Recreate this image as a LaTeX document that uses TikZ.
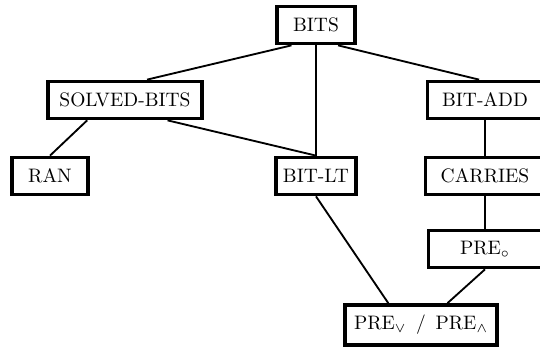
\documentclass[tikz,border=0pt]{standalone}
\usepackage{amsmath,amssymb}
\usepackage{xcolor}
\usepackage{tikz}
\usetikzlibrary{calc}
\tikzset{
  box/.style={draw=black, line width=1.9pt, minimum height=19pt, inner sep=2pt, font=\normalsize},
  edge/.style={draw=black, line width=0.95pt}
}
\begin{document}
\begin{tikzpicture}[x=0.513pt, y=-0.513pt]
  \clip (0,0) rectangle (540,352);

  \node[box, minimum width=40pt] (bits) at (316,25) {BITS};
  \node[box, minimum width=79pt] (solved) at (125,100) {SOLVED-BITS};
  \node[box, minimum width=59pt] (bitadd) at (485,100) {BIT-ADD};
  \node[box, minimum width=39pt] (ran) at (50,176) {RAN};
  \node[box, minimum width=41pt] (bitlt) at (316,176) {BIT-LT};
  \node[box, minimum width=61pt] (carries) at (485,176) {CARRIES};
  \node[box, minimum width=58pt] (prec) at (485,249) {PRE$_\circ$};
  \node[box, minimum width=78pt, minimum height=20.5pt] (preor) at (421,325) {PRE$_\vee$ \,/\, PRE$_\wedge$};

  % top level
  \draw[edge] ($(bits.south west)!0.2!(bits.south east)$) -- ($(solved.north west)!0.64!(solved.north east)$);
  \draw[edge] (bits.south) -- (bitlt.north);
  \draw[edge] ($(bits.south west)!0.77!(bits.south east)$) -- ($(bitadd.north west)!0.45!(bitadd.north east)$);

  % left part
  \draw[edge] ($(solved.south west)!0.26!(solved.south east)$) -- (ran.north);
  \draw[edge] ($(solved.south west)!0.77!(solved.south east)$) -- (bitlt.north);

  % right column
  \draw[edge] (bitadd.south) -- (carries.north);
  \draw[edge] (carries.south) -- (prec.north);

  % bottom
  \draw[edge] (bitlt.south) -- ($(preor.north west)!0.29!(preor.north east)$);
  \draw[edge] (prec.south) -- ($(preor.north west)!0.67!(preor.north east)$);
\end{tikzpicture}
\end{document}
